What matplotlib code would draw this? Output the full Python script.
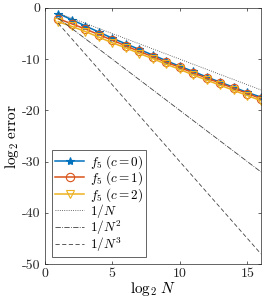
import numpy as np
import matplotlib
matplotlib.use('Agg')
import matplotlib.pyplot as plt

plt.rcParams['font.family'] = 'cmr10'
plt.rcParams['mathtext.fontset'] = 'cm'
plt.rcParams['axes.unicode_minus'] = False
plt.rcParams['axes.formatter.use_mathtext'] = False

# log2 N
n = np.arange(1, 17)

# log2 error for f5 with c = 0, 1, 2
err_c0 = [-1.1, -2.3, -3.5, -4.7, -5.9, -7.0, -8.1, -9.2,
          -10.3, -11.4, -12.4, -13.5, -14.5, -15.5, -16.5, -17.4]
err_c1 = [-2.1, -3.1, -4.1, -5.2, -6.3, -7.4, -8.5, -9.5,
          -10.6, -11.6, -12.7, -13.7, -14.7, -15.7, -16.7, -17.7]
err_c2 = [-2.7, -3.6, -4.6, -5.7, -6.8, -7.8, -8.9, -9.9,
          -11.0, -12.0, -13.1, -14.1, -15.1, -16.1, -17.1, -18.1]

# reference slopes
ref_x = [1, 16]
ref_1 = [-1, -16]
ref_2 = [-2, -32]
ref_3 = [-3, -48]

fig = plt.figure(figsize=(2.66, 3.05), dpi=100)
ax = fig.add_axes([0.168, 0.134, 0.813, 0.840])

ax.plot(n, err_c0, '-*', color='#0072BD', lw=1.1, ms=6, mew=0.8,
        label=r'$f_5\;(c=0)$')
ax.plot(n, err_c1, '-o', color='#D95319', lw=1.1, ms=6, mew=0.8,
        mfc='none', label=r'$f_5\;(c=1)$')
ax.plot(n, err_c2, '-v', color='#EDB120', lw=1.1, ms=6, mew=0.8,
        mfc='none', label=r'$f_5\;(c=2)$')
ax.plot(ref_x, ref_1, ':', color='#404040', lw=0.6, label=r'$1/N$')
ax.plot(ref_x, ref_2, '-.', color='#404040', lw=0.6, label=r'$1/N^2$')
ax.plot(ref_x, ref_3, '--', color='#404040', lw=0.6, dashes=(5, 3),
        label=r'$1/N^3$')

ax.set_xlim(0, 16)
ax.set_ylim(-50, 0)
ax.set_xticks([0, 5, 10, 15])
ax.set_yticks([-50, -40, -30, -20, -10, 0])
ax.tick_params(direction='in', top=True, right=True, labelsize=10,
               length=2.5, width=0.5, colors='#262626', pad=3)
for s in ax.spines.values():
    s.set_linewidth(0.5)
    s.set_color('#262626')

ax.set_xlabel(r'$\log_2\,N$', fontsize=11, labelpad=0)
ax.set_ylabel(r'$\log_2\,\mathrm{error}$', fontsize=11, labelpad=1)

leg = ax.legend(loc='lower left', fontsize=9.5, fancybox=False,
                framealpha=1, edgecolor='#262626', handlelength=2.2,
                handletextpad=0.4, borderpad=0.25, labelspacing=-0.12,
                borderaxespad=0.55)
leg.get_frame().set_linewidth(0.5)

fig.savefig('out.png', dpi=100)
